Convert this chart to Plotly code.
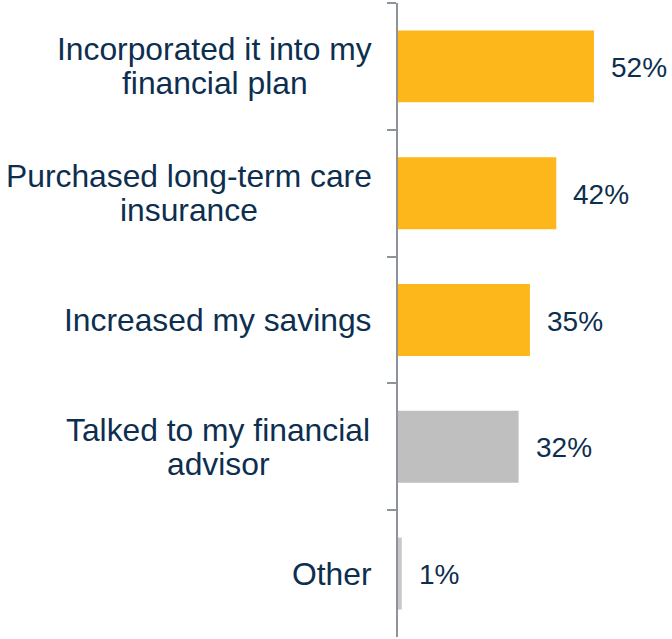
import plotly.graph_objects as go

categories = [
    "Incorporated it into my<br>financial plan",
    "Purchased long-term care<br>insurance",
    "Increased my savings",
    "Talked to my financial<br>advisor",
    "Other",
]
values = [52, 42, 35, 32, 1]
value_labels = ["52%", "42%", "35%", "32%", "1%"]

bar_colors = ["#FDB71A", "#FDB71A", "#FDB71A", "#BFBFBF", "#C8C8C8"]
TEXT = "#0d2f4f"
FONT = "Liberation Sans, Arial, sans-serif"
LABEL_SIZE = 31.8
LINE_GAP = 34
LABEL_RIGHT = -26  # px from the axis to the right edge of the label block

# Arial / Liberation Sans advance widths (1/1000 em) used to centre label lines
ADV = {" ": 278, "-": 333, "I": 278, "P": 667, "T": 611, "O": 778,
       "a": 556, "c": 500, "d": 556, "e": 556, "f": 278, "g": 556, "h": 556,
       "i": 222, "k": 500, "l": 222, "m": 833, "n": 556, "o": 556, "p": 556,
       "r": 333, "s": 500, "t": 278, "u": 556, "v": 500, "y": 500}


def text_width(s, size):
    return sum(ADV.get(ch, 556) for ch in s) * size / 1000.0


fig = go.Figure(go.Bar(
    x=values,
    y=categories,
    orientation="h",
    marker=dict(color=bar_colors, line=dict(width=0)),
    hoverinfo="skip",
))

annotations = []
for cat in categories:
    lines = cat.split("<br>")
    n = len(lines)
    block_w = max(text_width(ln, LABEL_SIZE) for ln in lines)
    cx = LABEL_RIGHT - block_w / 2
    for i, ln in enumerate(lines):
        annotations.append(dict(
            xref="paper", x=0, y=cat, yref="y",
            text=ln, showarrow=False,
            xanchor="center", yanchor="middle",
            xshift=cx, yshift=-(i - (n - 1) / 2) * LINE_GAP,
            font=dict(family=FONT, size=LABEL_SIZE, color=TEXT),
        ))

for cat, v, lab in zip(categories, values, value_labels):
    annotations.append(dict(
        x=v, xref="x", y=cat, yref="y",
        text=lab, showarrow=False,
        xanchor="left", yanchor="middle", xshift=15, yshift=-1,
        font=dict(family=FONT, size=28, color=TEXT),
    ))

fig.update_layout(
    width=672, height=639,
    margin=dict(l=398, r=0, t=3, b=2),
    paper_bgcolor="white", plot_bgcolor="white",
    showlegend=False,
    bargap=0.433,
    annotations=annotations,
    xaxis=dict(range=[0, 72.7], visible=False, fixedrange=True),
    yaxis=dict(
        type="category", autorange="reversed",
        showticklabels=False, showgrid=False, zeroline=False,
        showline=True, linecolor="#8E9299", linewidth=2,
        ticks="outside", ticklen=9, tickwidth=2, tickcolor="#8E9299",
        tickson="boundaries", fixedrange=True,
    ),
)

fig.write_html("out.html", config={"displayModeBar": False},
               post_script="document.body.style.margin='0';")
